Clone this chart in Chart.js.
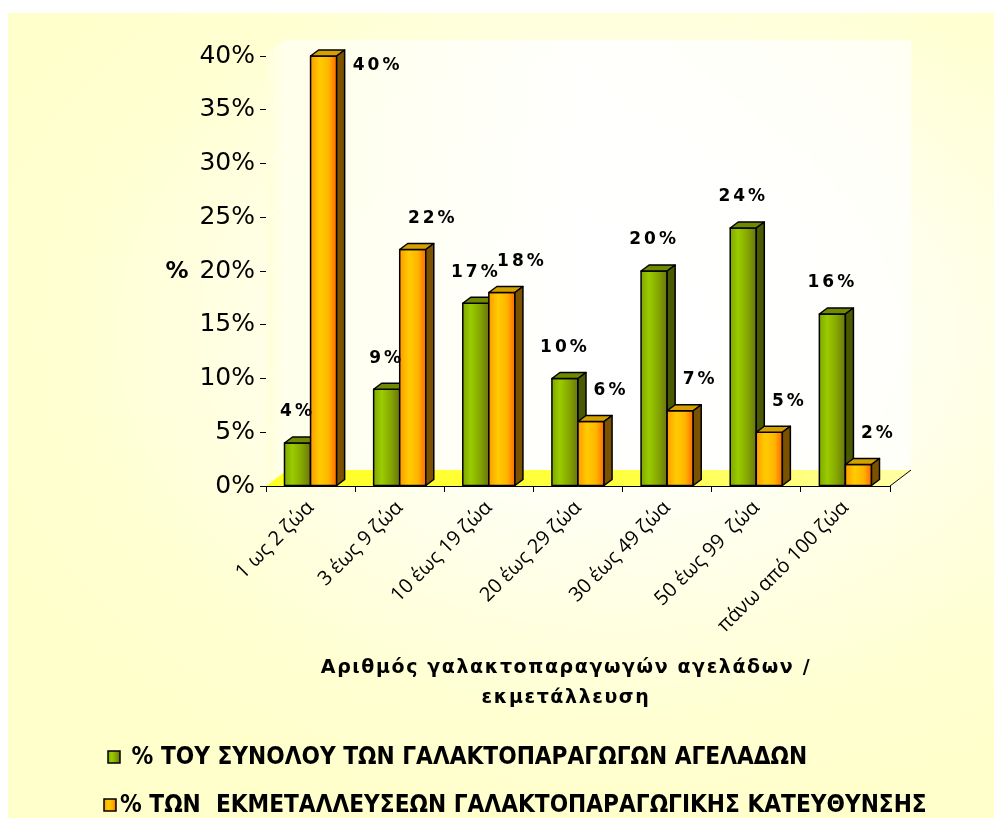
<!DOCTYPE html>
<html>
<head>
<meta charset="utf-8">
<script src="https://cdn.jsdelivr.net/npm/chart.js@4.4.1/dist/chart.umd.min.js"></script>
<style>
  html, body { margin: 0; padding: 0; background: #fff; }
  #wrap {
    position: absolute; left: 8px; top: 13px; width: 986px; height: 805px;
    background: radial-gradient(ellipse 70% 60% at 62% 40%, #ffffff 0%, #fffff4 35%, #ffffd2 80%, #ffffcc 100%);
  }
</style>
</head>
<body>
<div id="wrap"><canvas id="chart" width="986" height="805"></canvas></div>
<script>
// Data
const categories = ['1 ως 2 ζώα', '3 έως 9 ζώα', '10 έως 19 ζώα', '20 έως 29 ζώα',
                    '30 έως 49 ζώα', '50 έως 99  ζώα', 'πάνω από 100 ζώα'];
const cowsShare = [4, 9, 17, 10, 20, 24, 16];     // % of all dairy cows
const farmsShare = [40, 22, 18, 6, 7, 5, 2];      // % of dairy farms
const seriesNames = [' % ΤΟΥ ΣΥΝΟΛΟΥ ΤΩΝ ΓΑΛΑΚΤΟΠΑΡΑΓΩΓΩΝ ΑΓΕΛΑΔΩΝ',
                     '% ΤΩΝ  ΕΚΜΕΤΑΛΛΕΥΣΕΩΝ ΓΑΛΑΚΤΟΠΑΡΑΓΩΓΙΚΗΣ ΚΑΤΕΥΘΥΝΣΗΣ'];
const xTitle = ['Αριθμός γαλακτοπαραγωγών αγελάδων /', 'εκμετάλλευση'];
const yTitle = '%';

// depth of the bars and of the walls
const DX = 8, DY = -6;
const WX = 21, WY = -16;

const palette = [
  { stops: [[0, '#7fa800'], [0.3, '#9acc00'], [0.65, '#86a800'], [1, '#6a7510']], top: '#6f8a00', side: '#4a5a00', legend: '#8cbc00' },
  { stops: [[0, '#ff9a00'], [0.35, '#ffcc00'], [0.7, '#ffb400'], [1, '#ff6a00']], top: '#d4a000', side: '#7a5200', legend: '#ffb000' }
];

function drawBar(ctx, x0, x1, top, bottom, pal) {
  ctx.lineWidth = 1.5;
  ctx.strokeStyle = '#000';
  ctx.lineJoin = 'round';
  // front face
  const g = ctx.createLinearGradient(x0, 0, x1, 0);
  pal.stops.forEach(s => g.addColorStop(s[0], s[1]));
  ctx.fillStyle = g;
  ctx.beginPath();
  ctx.rect(x0, top, x1 - x0, bottom - top);
  ctx.fill(); ctx.stroke();
  // top face
  ctx.fillStyle = pal.top;
  ctx.beginPath();
  ctx.moveTo(x0, top); ctx.lineTo(x0 + DX, top + DY);
  ctx.lineTo(x1 + DX, top + DY); ctx.lineTo(x1, top); ctx.closePath();
  ctx.fill(); ctx.stroke();
  // side face
  ctx.fillStyle = pal.side;
  ctx.beginPath();
  ctx.moveTo(x1, top); ctx.lineTo(x1 + DX, top + DY);
  ctx.lineTo(x1 + DX, bottom + DY); ctx.lineTo(x1, bottom); ctx.closePath();
  ctx.fill(); ctx.stroke();
}

const box3d = {
  id: 'box3d',
  beforeDatasetsDraw(chart) {
    const { ctx, chartArea: a, scales } = chart;
    ctx.save();
    // back wall
    let g = ctx.createLinearGradient(a.left, 0, a.right, 0);
    g.addColorStop(0, 'rgba(255,255,235,0.9)');
    g.addColorStop(0.5, 'rgba(255,255,255,0.9)');
    g.addColorStop(1, 'rgba(255,255,255,0.7)');
    ctx.fillStyle = g;
    ctx.fillRect(a.left + WX, a.top + WY, a.right - a.left, a.bottom - a.top);
    // left wall
    g = ctx.createLinearGradient(a.left, 0, a.left + WX, 0);
    g.addColorStop(0, '#ffffd8');
    g.addColorStop(1, '#ffffee');
    ctx.fillStyle = g;
    ctx.beginPath();
    ctx.moveTo(a.left, a.top); ctx.lineTo(a.left + WX, a.top + WY);
    ctx.lineTo(a.left + WX, a.bottom + WY); ctx.lineTo(a.left, a.bottom); ctx.closePath();
    ctx.fill();
    // faint lines on left wall at each tick
    ctx.strokeStyle = 'rgba(255,255,255,0.9)';
    ctx.lineWidth = 1;
    scales.y.ticks.forEach(t => {
      const y = scales.y.getPixelForValue(t.value);
      ctx.beginPath(); ctx.moveTo(a.left, y); ctx.lineTo(a.left + WX, y + WY); ctx.stroke();
    });
    // floor
    g = ctx.createLinearGradient(a.left, 0, a.right, 0);
    g.addColorStop(0, '#ffff22');
    g.addColorStop(0.6, '#ffff44');
    g.addColorStop(1, '#ffffa0');
    ctx.fillStyle = g;
    ctx.beginPath();
    ctx.moveTo(a.left, a.bottom); ctx.lineTo(a.right, a.bottom);
    ctx.lineTo(a.right + WX, a.bottom + WY); ctx.lineTo(a.left + WX, a.bottom + WY); ctx.closePath();
    ctx.fill();
    ctx.strokeStyle = '#000';
    ctx.beginPath(); ctx.moveTo(a.right, a.bottom); ctx.lineTo(a.right + WX, a.bottom + WY); ctx.stroke();
    ctx.restore();
  },
  afterDatasetsDraw(chart) {
    const { ctx, chartArea: a } = chart;
    const metas = chart.data.datasets.map((d, i) => chart.getDatasetMeta(i));
    ctx.save();
    for (let j = 0; j < categories.length; j++) {
      metas.forEach((m, i) => {
        const b = m.data[j].getProps(['x', 'y', 'base', 'width'], true);
        drawBar(ctx, b.x - b.width / 2, b.x + b.width / 2, b.y, b.base, palette[i]);
      });
    }
    // value labels
    ctx.fillStyle = '#000';
    ctx.font = 'bold 17px "DejaVu Sans"';
    ctx.letterSpacing = '3px';
    ctx.textAlign = 'center';
    ctx.textBaseline = 'middle';
    metas.forEach((m, i) => {
      m.data.forEach((el, j) => {
        const b = el.getProps(['x', 'y'], true);
        const v = chart.data.datasets[i].data[j];
        let lx = b.x + (i === 0 ? 0 : 20);
        let ly = b.y - 31;
        if (ly < a.top) { lx = b.x + 54; ly = b.y + 10; }
        ctx.fillText(v + '%', lx, ly);
      });
    });
    ctx.restore();
  },
  afterDraw(chart) {
    const { ctx } = chart;
    ctx.save();
    ctx.fillStyle = '#000';
    // y title, horizontal
    ctx.font = 'bold 23px "DejaVu Sans"';
    ctx.textAlign = 'center';
    ctx.textBaseline = 'middle';
    ctx.fillText(yTitle, 169, 259);
    // x title
    ctx.font = 'bold 19px "DejaVu Sans"';
    ctx.letterSpacing = '1.6px';
    ctx.fillText(xTitle[0], 558, 655);
    ctx.fillText(xTitle[1], 558, 685);
    ctx.letterSpacing = '0px';
    // legend
    const rows = [{ bx: 100, y: 744 }, { bx: 96, y: 792 }];
    ctx.textAlign = 'left';
    ctx.font = 'bold 24px "DejaVu Sans"';
    seriesNames.forEach((name, i) => {
      const r = rows[i];
      const g = ctx.createLinearGradient(r.bx, 0, r.bx + 12, 0);
      palette[i].stops.forEach(s => g.addColorStop(s[0], s[1]));
      ctx.fillStyle = g;
      ctx.strokeStyle = '#000';
      ctx.lineWidth = 1.5;
      ctx.fillRect(r.bx, r.y - 6, 12, 12);
      ctx.strokeRect(r.bx, r.y - 6, 12, 12);
      ctx.fillStyle = '#000';
      ctx.save();
      ctx.translate(r.bx + 16, r.y);
      ctx.scale(0.905, 1);
      ctx.fillText(name, 0, 1);
      ctx.restore();
    });
    ctx.restore();
  }
};

new Chart(document.getElementById('chart').getContext('2d'), {
  type: 'bar',
  data: {
    labels: categories,
    datasets: [
      { label: seriesNames[0], data: cowsShare, backgroundColor: palette[0].legend },
      { label: seriesNames[1], data: farmsShare, backgroundColor: palette[1].legend }
    ]
  },
  options: {
    responsive: false,
    animation: false,
    layout: { padding: { top: 43, right: 104, left: 0, bottom: 0 } },
    categoryPercentage: 0.585,
    barPercentage: 1,
    plugins: {
      legend: { display: false },
      tooltip: { enabled: false }
    },
    scales: {
      x: {
        offset: true,
        afterFit: s => { s.height = 332; },
        grid: { drawOnChartArea: false, drawTicks: true, tickLength: 6, color: '#000', offset: true },
        border: { color: '#000', width: 1 },
        ticks: {
          autoSkip: false, minRotation: 45, maxRotation: 45, padding: 4,
          color: '#000', font: { family: '"Open Sans"', size: 20 }
        }
      },
      y: {
        min: 0, max: 40,
        afterFit: s => { s.width = 258; },
        grid: { drawOnChartArea: false, drawTicks: true, tickLength: 6, color: '#000' },
        border: { color: '#000', width: 1 },
        ticks: {
          stepSize: 5, padding: 5, color: '#000',
          font: { family: '"DejaVu Sans"', size: 25 },
          callback: v => v + '%'
        }
      }
    }
  },
  plugins: [box3d]
});
</script>
</body>
</html>
